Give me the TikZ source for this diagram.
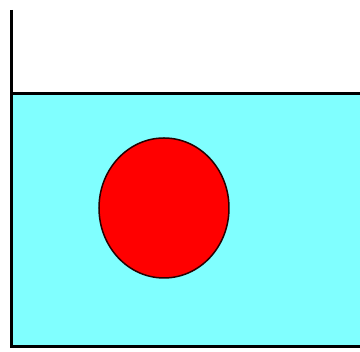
\documentclass[tikz,border=0pt]{standalone}
\usepackage{tikz}
\definecolor{water}{HTML}{80FFFF}
\definecolor{ball}{HTML}{FF0000}
\begin{document}
\begin{tikzpicture}[
  x=1pt,y=1pt,
  wall/.style={draw=black,line width=3pt},
  liquid/.style={fill=water},
  sphere/.style={fill=ball,draw=black!85!red,line width=1.5pt}
]
  \useasboundingbox (0,0) rectangle (360,352);
  \fill[liquid] (11.5,5) rectangle (360,258);
  \draw[wall] (11.5,258) -- (360,258);
  \draw[wall] (11.5,342) -- (11.5,5) -- (360,5);
  \draw[sphere] (164,144) ellipse [x radius=65, y radius=70];
\end{tikzpicture}
\end{document}
